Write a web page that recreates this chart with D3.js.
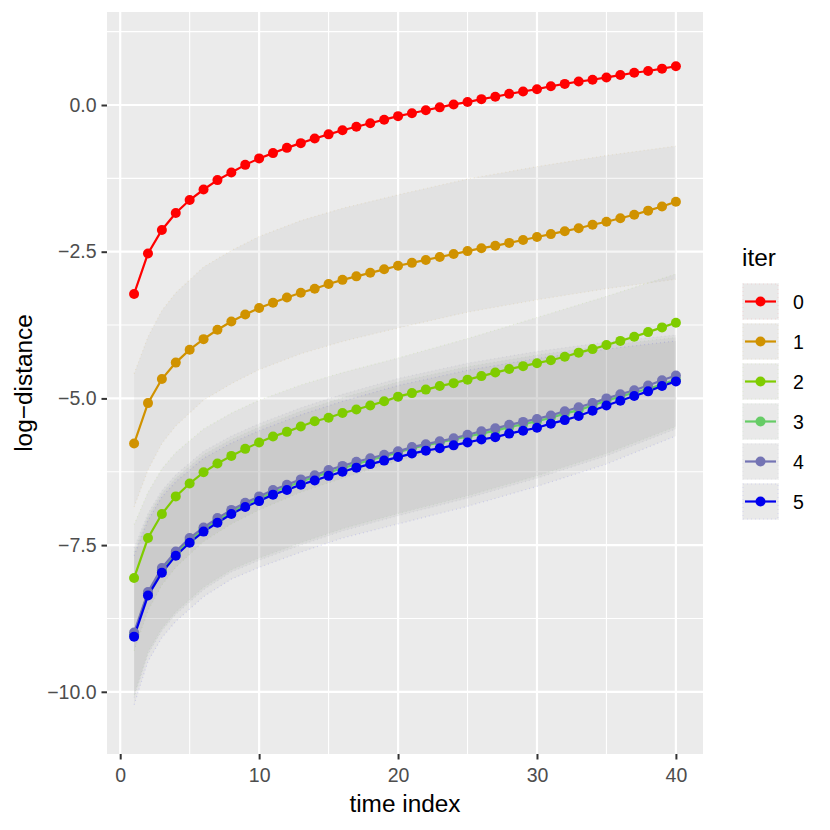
<!DOCTYPE html>
<html>
<head>
<meta charset="utf-8">
<script src="https://cdn.jsdelivr.net/npm/d3@7"></script>
<style>
  body { margin: 0; background: #fff; }
  svg { font-family: "Liberation Sans", Arial, Helvetica, sans-serif; }
</style>
</head>
<body>
<div id="chart"></div>
<script>
// time index 1..40
var timeIndex = d3.range(1, 41);
var iterLabels = ['0', '1', '2', '3', '4', '5'];
var iterColors = ['#FF0000', '#D09200', '#7FCC00', '#66CC66', '#7474B4', '#0000EE'];

// log-distance per iter
var iter0 = [-3.22, -2.53, -2.13, -1.84, -1.62, -1.44, -1.28, -1.15, -1.02, -0.91,
             -0.82, -0.73, -0.65, -0.57, -0.50, -0.43, -0.37, -0.31, -0.25, -0.19,
             -0.14, -0.09, -0.04, 0.01, 0.05, 0.10, 0.14, 0.19, 0.23, 0.27,
             0.32, 0.36, 0.40, 0.43, 0.47, 0.51, 0.55, 0.58, 0.62, 0.66];
var iter1 = [-5.77, -5.08, -4.67, -4.39, -4.17, -3.99, -3.83, -3.69, -3.57, -3.46,
             -3.37, -3.28, -3.20, -3.13, -3.05, -2.98, -2.92, -2.86, -2.80, -2.74,
             -2.69, -2.64, -2.59, -2.54, -2.49, -2.44, -2.40, -2.35, -2.30, -2.25,
             -2.20, -2.15, -2.10, -2.04, -1.99, -1.93, -1.87, -1.80, -1.73, -1.65];
var iter2 = [-8.06, -7.38, -6.97, -6.67, -6.45, -6.26, -6.11, -5.98, -5.86, -5.75,
             -5.65, -5.57, -5.48, -5.39, -5.33, -5.25, -5.19, -5.12, -5.05, -4.97,
             -4.91, -4.85, -4.79, -4.74, -4.68, -4.62, -4.56, -4.50, -4.45, -4.40,
             -4.35, -4.29, -4.22, -4.16, -4.09, -4.02, -3.95, -3.87, -3.79, -3.71];
var iter3 = [-9.02, -8.32, -7.93, -7.64, -7.42, -7.23, -7.08, -6.93, -6.81, -6.71,
             -6.60, -6.51, -6.42, -6.34, -6.26, -6.19, -6.12, -6.05, -5.99, -5.92,
             -5.85, -5.80, -5.75, -5.70, -5.65, -5.60, -5.55, -5.49, -5.44, -5.39,
             -5.33, -5.26, -5.20, -5.12, -5.04, -4.97, -4.90, -4.84, -4.76, -4.68];
var iter4 = [-8.99, -8.30, -7.89, -7.61, -7.38, -7.20, -7.04, -6.90, -6.78, -6.67,
             -6.56, -6.47, -6.38, -6.31, -6.22, -6.15, -6.08, -6.02, -5.96, -5.90,
             -5.83, -5.78, -5.73, -5.68, -5.62, -5.56, -5.51, -5.45, -5.40, -5.35,
             -5.29, -5.22, -5.15, -5.08, -5.00, -4.93, -4.86, -4.78, -4.69, -4.61];
var iter5 = [-9.06, -8.36, -7.97, -7.68, -7.46, -7.27, -7.12, -6.97, -6.85, -6.75,
             -6.64, -6.56, -6.47, -6.40, -6.32, -6.25, -6.18, -6.12, -6.06, -6.00,
             -5.94, -5.89, -5.85, -5.80, -5.75, -5.70, -5.66, -5.60, -5.55, -5.50,
             -5.43, -5.37, -5.30, -5.21, -5.12, -5.04, -4.96, -4.88, -4.79, -4.71];

// band bounds read at these time indices
var bandX = [1, 2, 3, 4, 6, 8, 10, 13, 16, 20, 25, 30, 35, 40];
var bandHi1 = [-4.58, -3.95, -3.50, -3.20, -2.76, -2.48, -2.24, -1.97, -1.76, -1.53, -1.26, -1.05, -0.86, -0.70];
var bandLo1 = [-6.85, -6.22, -5.77, -5.47, -5.03, -4.75, -4.51, -4.24, -4.03, -3.80, -3.53, -3.32, -3.13, -2.97];
var bandHi2 = [-7.15, -6.60, -6.20, -5.92, -5.52, -5.25, -5.03, -4.77, -4.56, -4.31, -3.98, -3.62, -3.26, -2.88];
var bandLo2 = [-9.30, -8.62, -8.18, -7.88, -7.44, -7.14, -6.90, -6.60, -6.36, -6.06, -5.76, -5.46, -5.12, -4.72];
var bandHi3 = [-7.62, -7.02, -6.62, -6.36, -5.96, -5.70, -5.49, -5.22, -4.99, -4.72, -4.46, -4.26, -4.10, -3.96];
var bandLo3 = [-10.05, -9.32, -8.92, -8.64, -8.22, -7.92, -7.72, -7.46, -7.22, -6.96, -6.66, -6.32, -5.94, -5.48];
var bandHi4 = [-7.55, -6.96, -6.57, -6.30, -5.90, -5.64, -5.43, -5.16, -4.93, -4.66, -4.40, -4.20, -4.04, -3.92];
var bandLo4 = [-10.10, -9.36, -8.96, -8.68, -8.26, -7.96, -7.76, -7.50, -7.26, -7.00, -6.70, -6.36, -5.98, -5.52];
var bandHi5 = [-7.68, -7.08, -6.68, -6.42, -6.02, -5.76, -5.55, -5.28, -5.05, -4.78, -4.52, -4.32, -4.16, -4.02];
var bandLo5 = [-10.22, -9.48, -9.08, -8.80, -8.38, -8.08, -7.88, -7.62, -7.38, -7.14, -6.84, -6.50, -6.12, -5.64];

var xTicks = [0, 10, 20, 30, 40];
var xMinor = [5, 15, 25, 35];
var yTicks = [0, -2.5, -5, -7.5, -10];
var yMinor = [1.25, -1.25, -3.75, -6.25, -8.75];

var seriesValues = [iter0, iter1, iter2, iter3, iter4, iter5];
var bands = [
    { i: 1, hi: bandHi1, lo: bandLo1 },
    { i: 2, hi: bandHi2, lo: bandLo2 },
    { i: 3, hi: bandHi3, lo: bandLo3 },
    { i: 4, hi: bandHi4, lo: bandLo4 },
    { i: 5, hi: bandHi5, lo: bandLo5 }
];

var width = 830,
    height = 830,
    panel = { left: 107, right: 703, top: 12, bottom: 754 };

var minus = function (s) { return s.replace('-', '\u2212'); };

var x = d3.scaleLinear().domain([-0.95, 41.95]).range([panel.left, panel.right]);
var y = d3.scaleLinear().domain([-11.06, 1.585]).range([panel.bottom, panel.top]);

var svg = d3.select('#chart').append('svg')
    .attr('width', width)
    .attr('height', height);

// panel background and grid
svg.append('rect')
    .attr('x', panel.left).attr('y', panel.top)
    .attr('width', panel.right - panel.left).attr('height', panel.bottom - panel.top)
    .attr('fill', '#EBEBEB');

var grid = svg.append('g');
grid.selectAll('.ymin').data(yMinor).enter().append('line')
    .attr('x1', panel.left).attr('x2', panel.right)
    .attr('y1', function (d) { return y(d); }).attr('y2', function (d) { return y(d); })
    .attr('stroke', '#fff').attr('stroke-width', 1.1);
grid.selectAll('.xmin').data(xMinor).enter().append('line')
    .attr('y1', panel.top).attr('y2', panel.bottom)
    .attr('x1', function (d) { return x(d); }).attr('x2', function (d) { return x(d); })
    .attr('stroke', '#fff').attr('stroke-width', 1.1);
grid.selectAll('.ymaj').data(yTicks).enter().append('line')
    .attr('x1', panel.left).attr('x2', panel.right)
    .attr('y1', function (d) { return y(d); }).attr('y2', function (d) { return y(d); })
    .attr('stroke', '#fff').attr('stroke-width', 2.2);
grid.selectAll('.xmaj').data(xTicks).enter().append('line')
    .attr('y1', panel.top).attr('y2', panel.bottom)
    .attr('x1', function (d) { return x(d); }).attr('x2', function (d) { return x(d); })
    .attr('stroke', '#fff').attr('stroke-width', 2.2);

// bands
var area = d3.area()
    .x(function (d) { return x(d.t); })
    .y0(function (d) { return y(d.lo); })
    .y1(function (d) { return y(d.hi); });
var edge = d3.line()
    .x(function (d) { return x(d.t); })
    .y(function (d) { return y(d.v); });

var bandG = svg.append('g');
bands.forEach(function (b) {
    var pts = bandX.map(function (t, k) { return { t: t, lo: b.lo[k], hi: b.hi[k] }; });
    bandG.append('path')
        .attr('d', area(pts))
        .attr('fill', '#808080')
        .attr('fill-opacity', 0.08);
    ['hi', 'lo'].forEach(function (key) {
        bandG.append('path')
            .attr('d', edge(pts.map(function (p) { return { t: p.t, v: p[key] }; })))
            .attr('fill', 'none')
            .attr('stroke', iterColors[b.i])
            .attr('stroke-opacity', 0.12)
            .attr('stroke-width', 1.2)
            .attr('stroke-dasharray', '1,3');
    });
});

// lines, then points
var line = d3.line()
    .x(function (d, k) { return x(timeIndex[k]); })
    .y(function (d) { return y(d); });

svg.append('g').selectAll('path')
    .data(seriesValues)
    .enter().append('path')
    .attr('d', function (d) { return line(d); })
    .attr('fill', 'none')
    .attr('stroke', function (d, i) { return iterColors[i]; })
    .attr('stroke-width', 2.2);

var pointG = svg.append('g');
seriesValues.forEach(function (vals, i) {
    pointG.selectAll('.p' + i)
        .data(vals)
        .enter().append('circle')
        .attr('cx', function (d, k) { return x(timeIndex[k]); })
        .attr('cy', function (d) { return y(d); })
        .attr('r', 5)
        .attr('fill', iterColors[i]);
});

// axes
var xAxis = svg.append('g').attr('transform', 'translate(0,' + panel.bottom + ')')
    .call(d3.axisBottom(x).tickValues(xTicks).tickSize(5.5).tickPadding(4));
var yAxis = svg.append('g').attr('transform', 'translate(' + panel.left + ',0)')
    .call(d3.axisLeft(y).tickValues(yTicks).tickSize(5.5).tickPadding(5)
        .tickFormat(function (d) { return minus(d3.format('.1f')(d)); }));
[xAxis, yAxis].forEach(function (a) {
    a.select('.domain').remove();
    a.selectAll('.tick line').attr('stroke', '#333333').attr('stroke-width', 2);
    a.selectAll('.tick text')
        .attr('fill', '#4D4D4D')
        .style('font-size', '19.5px')
        .style('font-family', '"Liberation Sans", Arial, sans-serif');
});
xAxis.selectAll('.tick text').attr('dy', '0.95em');

svg.append('text')
    .attr('x', (panel.left + panel.right) / 2).attr('y', 812)
    .attr('text-anchor', 'middle')
    .style('font-size', '24.4px')
    .text('time index');

svg.append('text')
    .attr('transform', 'translate(32,' + ((panel.top + panel.bottom) / 2) + ') rotate(-90)')
    .attr('text-anchor', 'middle')
    .style('font-size', '24.4px')
    .text('log\u2212distance');

// legend
var legend = svg.append('g').attr('transform', 'translate(742,283)');
legend.append('text')
    .attr('x', 0).attr('y', -17)
    .style('font-size', '24.4px')
    .text('iter');

var keys = legend.selectAll('.key')
    .data(iterLabels)
    .enter().append('g')
    .attr('transform', function (d, i) { return 'translate(0,' + (i * 40) + ')'; });

keys.append('rect')
    .attr('width', 37).attr('height', 37)
    .attr('fill', '#F2F2F2');
keys.append('rect')
    .attr('x', 1).attr('y', 1)
    .attr('width', 35).attr('height', 35)
    .attr('fill', '#808080').attr('fill-opacity', 0.08)
    .attr('stroke', function (d, i) { return iterColors[i]; })
    .attr('stroke-opacity', 0.1)
    .attr('stroke-dasharray', '1,3');
keys.append('line')
    .attr('x1', 3).attr('x2', 34)
    .attr('y1', 18.5).attr('y2', 18.5)
    .attr('stroke', function (d, i) { return iterColors[i]; })
    .attr('stroke-width', 2.2);
keys.append('circle')
    .attr('cx', 18.5).attr('cy', 18.5).attr('r', 5)
    .attr('fill', function (d, i) { return iterColors[i]; });
keys.append('text')
    .attr('x', 51).attr('y', 18.5)
    .attr('dy', '0.36em')
    .style('font-size', '19.5px')
    .text(function (d) { return d; });
</script>
</body>
</html>
